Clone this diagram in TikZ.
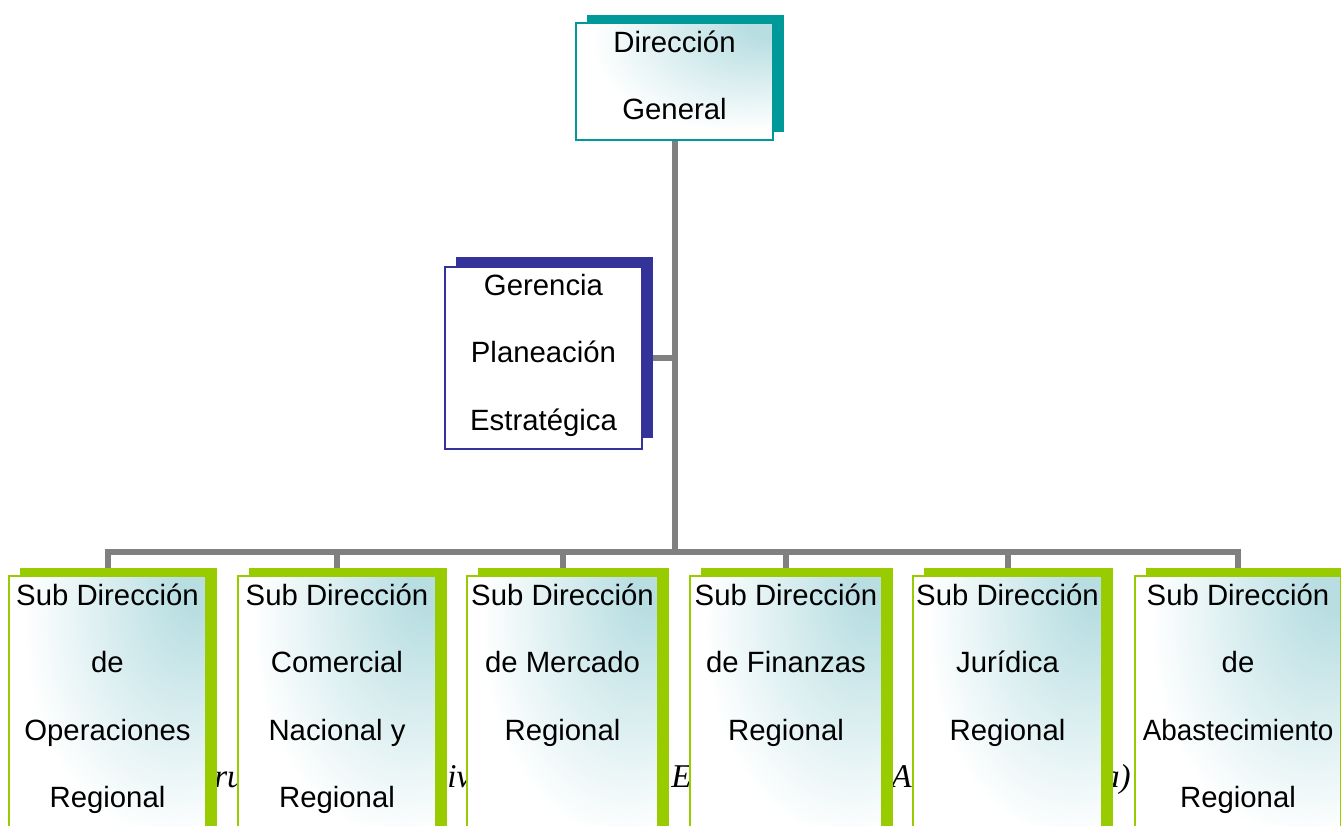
\documentclass[tikz,border=0pt]{standalone}
\usepackage{fontspec}
\setmainfont{Liberation Sans}
\newfontfamily\capfont{Liberation Serif}
\usetikzlibrary{fit,backgrounds}
\definecolor{tealS}{RGB}{0,153,153}
\definecolor{navyS}{RGB}{51,51,153}
\definecolor{greenS}{RGB}{153,204,0}
\definecolor{lineG}{RGB}{128,128,128}
\definecolor{paleT}{RGB}{184,222,226}
\pgfdeclareradialshading{tealglow}{\pgfpoint{25bp}{25bp}}{%
  color(0bp)=(paleT); color(5bp)=(paleT); color(37bp)=(white); color(100bp)=(white)}
\newcommand\ls{\rule{0pt}{18pt}}
\tikzset{
  boxfill/.style={shade, shading=tealglow},
  orgtext/.style={anchor=north, inner sep=0pt, align=center, font=\fontsize{22}{50.6}\selectfont},
  conn/.style={draw=lineG, line width=4.5pt, line join=miter},
  topbox/.style={inner sep=0pt, draw=tealS, line width=1.2pt, boxfill},
  gerbox/.style={inner sep=0pt, draw=navyS, line width=1pt, fill=white},
  subbox/.style={inner sep=0pt, draw=greenS, line width=1.2pt, boxfill},
  captxt/.style={anchor=base west, inner sep=0pt, font=\capfont\itshape\fontsize{24.9}{30}\selectfont},
}
\begin{document}
\begin{tikzpicture}[x=0.75pt, y=-0.75pt]
\useasboundingbox (0,0) rectangle (1341,825);
\clip (0,0) rectangle (1341,825);

% caption fragments (mostly hidden behind the boxes)
\node[captxt] (c1) at (214,787) {ru};
\node[captxt] (c2) at (447,787) {iv};
\node[captxt] (c3) at (671,787) {E};
\node[captxt] (c4) at (891,787) {A};
\node[captxt, anchor=base east] (c5) at (1131,787) {a)};

% shadows
\fill[tealS] (587,15) rectangle (784,132);
\fill[navyS] (456,257) rectangle (653,438);
\foreach \a/\b in {9/206, 238/436, 467/658, 690/882, 913/1102, 1135/1341}
  \fill[greenS] (\a+11,568) rectangle (\b+11,860);

% boxes
\node[fit={(576,23) (773,140)}, topbox] (dg) {};
\node[fit={(445,267) (642,449)}, gerbox] (ger) {};
\node[fit={(9,576) (206,860)}, subbox] (s1) {};
\node[fit={(238,576) (436,860)}, subbox] (s2) {};
\node[fit={(467,576) (658,860)}, subbox] (s3) {};
\node[fit={(690,576) (882,860)}, subbox] (s4) {};
\node[fit={(913,576) (1102,860)}, subbox] (s5) {};
\node[fit={(1135,576) (1341,860)}, subbox] (s6) {};

% texts
\node[orgtext] (tdg) at (674.5,52-24) {\ls Dirección\\General};
\node[orgtext] (tger) at (543.5,295-24) {\ls Gerencia\\Planeación\\Estratégica};
\node[orgtext] (ts1) at (107.5,605-24) {\ls Sub Dirección\\de\\Operaciones\\Regional};
\node[orgtext] (ts2) at (337,605-24) {\ls Sub Dirección\\Comercial\\Nacional y\\Regional};
\node[orgtext] (ts3) at (562.5,605-24) {\ls Sub Dirección\\de Mercado\\Regional};
\node[orgtext] (ts4) at (786,605-24) {\ls Sub Dirección\\de Finanzas\\Regional};
\node[orgtext] (ts5) at (1007.5,605-24) {\ls Sub Dirección\\Jurídica\\Regional};
\node[orgtext] (ts6) at (1238,605-24) {\ls Sub Dirección\\de\\\scalebox{0.95}[1]{Abastecimiento}\\Regional};

% connectors
\begin{scope}[on background layer]
  \coordinate (bar) at (675,552);
  \draw[conn] (dg.south) -- (dg.south |- bar);
  \draw[conn] (ger.east) -- (ger.east -| dg.south);
  \draw[conn] (s1.north) -- (s1.north |- bar) -- (s6.north |- bar) -- (s6.north);
  \foreach \s in {s2,s3,s4,s5}
    \draw[conn] (\s.north |- bar) -- (\s.north);
\end{scope}
\end{tikzpicture}
\end{document}
